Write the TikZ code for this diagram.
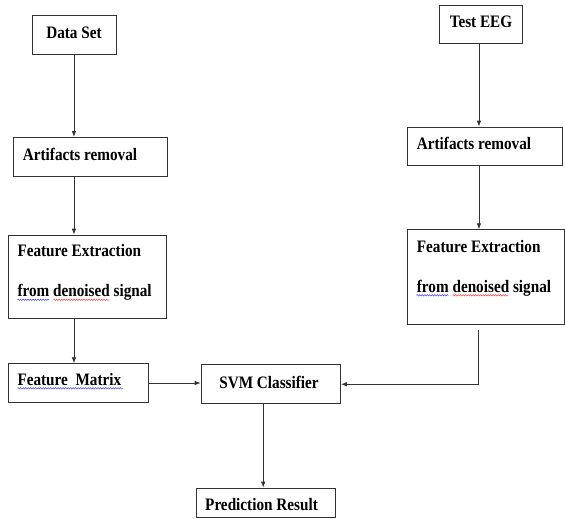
\documentclass[tikz,border=0pt]{standalone}
\usepackage{fontspec}
\setmainfont{Liberation Serif}[FakeStretch=0.87]
\usetikzlibrary{arrows.meta,decorations.pathmorphing}
\begin{document}
\begin{tikzpicture}[x=1pt,y=1pt,
  box/.style={draw=black!80, line width=0.9pt, inner sep=0pt, anchor=north west},
  lbl/.style={inner sep=0pt, font=\bfseries\fontsize{17.5}{20}\selectfont},
  arr/.style={draw=black!80, line width=0.8pt, -{Latex[length=6pt,width=4.5pt]}},
  squigb/.style={draw=blue!75, line width=0.5pt, decorate, decoration={snake, amplitude=0.7pt, segment length=2.5pt}},
  squigr/.style={draw=red!75, line width=0.5pt, decorate, decoration={snake, amplitude=0.7pt, segment length=2.5pt}}]
\useasboundingbox (0,0) rectangle (565,-519);
% left column
\node[box, minimum width=84pt, minimum height=38.5pt] (ds) at (32,-15.5) {};
\node[lbl, anchor=base] (dst) at (74,-38.5) {Data Set};
\node[box, minimum width=154pt, minimum height=39pt] (ar1) at (13,-137) {};
\node[lbl, anchor=base west] (ar1t) at (22.7,-160.5) {Artifacts removal};
\node[box, minimum width=158pt, minimum height=83.3pt] (fe1) at (8,-234.7) {};
\node[lbl, anchor=base west] (fe1a) at (17.3,-256.5) {Feature Extraction};
\node[lbl, anchor=base west] (fe1b) at (17.3,-296.5) {from denoised signal};
\node[box, minimum width=140pt, minimum height=38.5pt] (fm) at (8,-363.3) {};
\node[lbl, anchor=base west] (fmt) at (17.3,-385.5) {Feature\ \ Matrix};
% centre
\node[box, minimum width=139.3pt, minimum height=39pt] (svm) at (200.7,-364.3) {};
\node[lbl, anchor=base] (svmt) at (269,-388) {SVM Classifier};
\node[box, minimum width=139.3pt, minimum height=29pt] (pr) at (195.7,-487.7) {};
\node[lbl, anchor=base west] (prt) at (205,-510.7) {Prediction Result};
% right column
\node[box, minimum width=83pt, minimum height=38.3pt] (te) at (439,-5) {};
\node[lbl, anchor=base] (tet) at (481,-27.3) {Test EEG};
\node[box, minimum width=155pt, minimum height=38.3pt] (ar2) at (407.3,-126.7) {};
\node[lbl, anchor=base west] (ar2t) at (416.7,-149) {Artifacts removal};
\node[box, minimum width=157pt, minimum height=94.7pt] (fe2) at (407.3,-229.3) {};
\node[lbl, anchor=base west] (fe2a) at (416.7,-252) {Feature Extraction};
\node[lbl, anchor=base west] (fe2b) at (416.7,-292) {from denoised signal};
% connectors
\draw[arr] ([xshift=-0.5pt]ds.south) -- ([xshift=-0.5pt]ds.south |- ar1.north);
\draw[arr] ([xshift=-0.5pt]ds.south |- ar1.south) -- ([xshift=-0.5pt]ds.south |- fe1.north);
\draw[arr] ([xshift=-0.5pt]ds.south |- fe1.south) -- ([xshift=-0.5pt]ds.south |- fm.north);
\draw[arr] (fm.east) -- (fm.east -| svm.west);
\draw[arr] ([xshift=-7.6pt]svm.south) -- ([xshift=-7.6pt]svm.south |- pr.north);
\draw[arr] ([xshift=-2pt]te.south) -- ([xshift=-2pt]te.south |- ar2.north);
\draw[arr] ([xshift=-2pt]te.south |- ar2.south) -- ([xshift=-2pt]te.south |- fe2.north);
\draw[arr] ([xshift=-8pt,yshift=-5pt]fe2.south) |- (svm.east);
% spell-check squiggles
\draw[squigb] (17.3,-299.8) -- (49.3,-299.8);
\draw[squigr] (53.3,-299.8) -- (109.3,-299.8);
\draw[squigb] (416.5,-295.3) -- (448.3,-295.3);
\draw[squigr] (452.3,-295.3) -- (508.3,-295.3);
\draw[squigb] (17.3,-388.3) -- (122.7,-388.3);
\end{tikzpicture}
\end{document}
